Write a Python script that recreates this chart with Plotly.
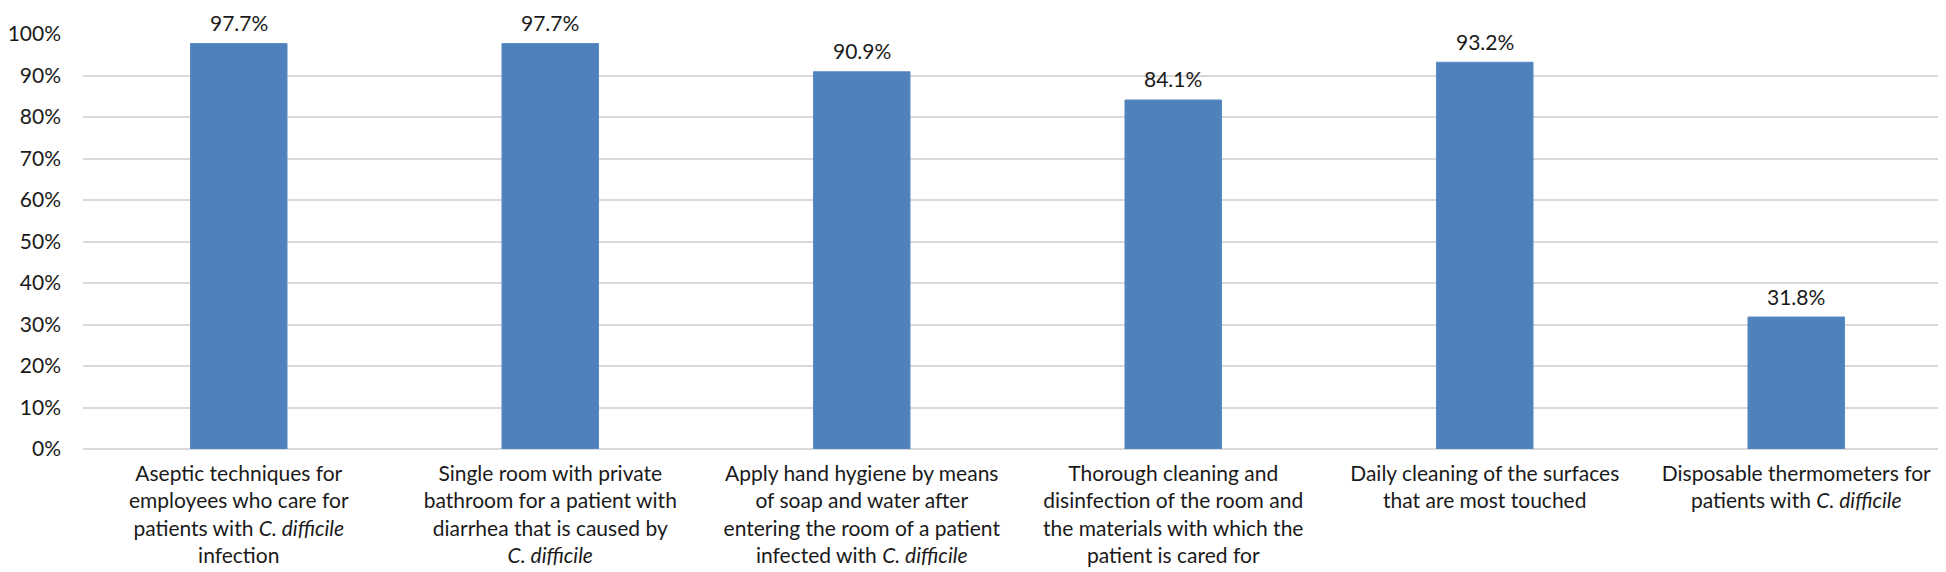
import plotly.graph_objects as go

categories = [
    "Aseptic techniques for<br>employees who care for<br>patients with <i>C. difficile</i><br>infection",
    "Single room with private<br>bathroom for a patient with<br>diarrhea that is caused by<br><i>C. difficile</i>",
    "Apply hand hygiene by means<br>of soap and water after<br>entering the room of a patient<br>infected with <i>C. difficile</i>",
    "Thorough cleaning and<br>disinfection of the room and<br>the materials with which the<br>patient is cared for",
    "Daily cleaning of the surfaces<br>that are most touched",
    "Disposable thermometers for<br>patients with <i>C. difficile</i>",
]
values = [0.977, 0.977, 0.909, 0.841, 0.932, 0.318]
y_ticks = [0, 0.1, 0.2, 0.3, 0.4, 0.5, 0.6, 0.7, 0.8, 0.9, 1.0]

FONT = "Lato, Open Sans, sans-serif"
TXT = "#1a1a1a"
xs = list(range(len(values)))

fig = go.Figure(
    go.Bar(
        x=xs,
        y=values,
        marker=dict(color="#4f81bd", line=dict(color="#5b8bc4", width=1)),
        hoverinfo="skip",
    )
)

for xi, v in zip(xs, values):
    fig.add_annotation(
        x=xi, y=v, xref="x", yref="y",
        text=f"{v * 100:.1f}%",
        showarrow=False,
        yanchor="middle",
        yshift=21,
        font=dict(size=21, color=TXT, family=FONT),
    )

fig.update_layout(
    width=1946,
    height=572,
    margin=dict(l=75, r=2, t=26, b=131),
    paper_bgcolor="white",
    plot_bgcolor="white",
    bargap=0.69,
    showlegend=False,
    font=dict(family=FONT, color=TXT),
)
fig.update_xaxes(
    tickmode="array",
    tickvals=xs,
    ticktext=categories,
    tickfont=dict(size=21, family=FONT, color=TXT),
    showgrid=False,
    showline=False,
    ticks="",
    range=[-0.5, len(values) - 0.5],
    ticklabelstandoff=10,
    automargin=False,
)
fig.update_yaxes(
    range=[0, 1],
    tickvals=y_ticks,
    tickformat=".0%",
    tickfont=dict(size=21, family=FONT, color=TXT),
    showgrid=True,
    gridcolor="#d9d9d9",
    gridwidth=1.5,
    zeroline=True,
    zerolinecolor="#d9d9d9",
    zerolinewidth=1.5,
    ticks="",
    ticklabelstandoff=21,
    automargin=False,
)

fig.write_html("out.html")
